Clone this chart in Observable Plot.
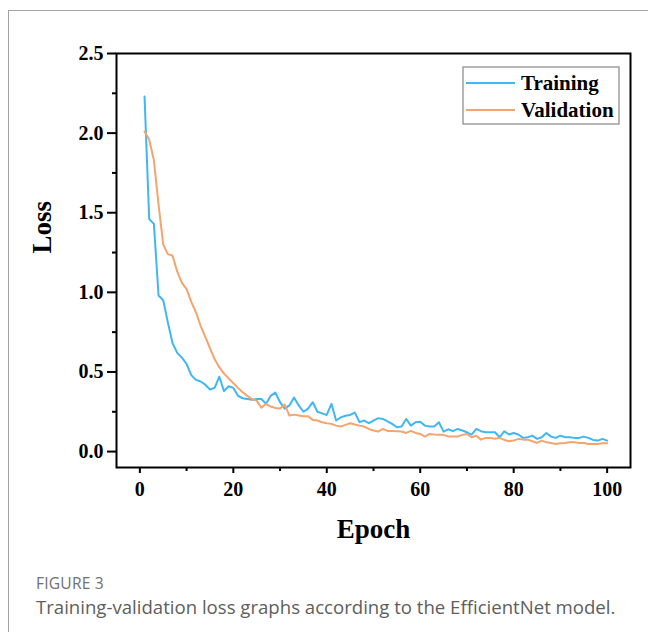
<!DOCTYPE html>
<html>
<head>
<meta charset="utf-8">
<script src="https://cdn.jsdelivr.net/npm/d3@7"></script>
<script src="https://cdn.jsdelivr.net/npm/@observablehq/plot@0.6"></script>
<style>
  html, body { margin: 0; padding: 0; background: #fff; width: 648px; height: 632px; overflow: hidden; }
  #card { position: absolute; left: 8px; top: 10px; width: 700px; height: 700px;
          border-top: 1.5px solid #a3a3a3; border-left: 1.5px solid #a3a3a3; }
  #chart { position: absolute; left: 0; top: 0; }
  #fig { position: absolute; left: 36px; top: 572px; font-family: "Open Sans", sans-serif;
         font-size: 15.6px; color: #707070; letter-spacing: 0.2px; }
  #cap { position: absolute; left: 36px; top: 594px; font-family: "Open Sans", sans-serif;
         font-size: 18.6px; color: #5e5e5e; white-space: nowrap; }
</style>
</head>
<body>
<div id="card"></div>
<div id="chart"></div>
<div id="fig">FIGURE 3</div>
<div id="cap">Training-validation loss graphs according to the EfficientNet model.</div>
<script>
const seriesNames = ["Training", "Validation"];
const seriesColors = ["#41b6f4", "#f5a46e"];
const xMajorTicks = [0, 20, 40, 60, 80, 100];
const xMinorTicks = [10, 30, 50, 70, 90];
const yMajorTicks = [0, 0.5, 1.0, 1.5, 2.0, 2.5];
const yMinorTicks = [0.25, 0.75, 1.25, 1.75, 2.25];

const training = [
  2.23, 1.46, 1.43, 0.98, 0.95, 0.81, 0.68, 0.62, 0.59, 0.55,
  0.48, 0.45, 0.44, 0.42, 0.39, 0.40, 0.47, 0.38, 0.41, 0.40,
  0.35, 0.335, 0.33, 0.325, 0.33, 0.33, 0.30, 0.35, 0.37, 0.31,
  0.27, 0.29, 0.34, 0.29, 0.25, 0.27, 0.31, 0.25, 0.24, 0.23,
  0.30, 0.195, 0.215, 0.225, 0.23, 0.245, 0.185, 0.195, 0.178, 0.195,
  0.21, 0.205, 0.19, 0.174, 0.153, 0.157, 0.205, 0.163, 0.184, 0.188,
  0.163, 0.157, 0.157, 0.184, 0.125, 0.14, 0.128, 0.142, 0.132, 0.121,
  0.107, 0.142, 0.128, 0.121, 0.121, 0.121, 0.09, 0.128, 0.107, 0.117,
  0.107, 0.086, 0.09, 0.10, 0.08, 0.09, 0.117, 0.094, 0.086, 0.10,
  0.09, 0.09, 0.086, 0.086, 0.094, 0.086, 0.073, 0.069, 0.08, 0.069
];
const validation = [
  2.01, 1.96, 1.83, 1.55, 1.30, 1.24, 1.23, 1.13, 1.06, 1.02,
  0.94, 0.875, 0.79, 0.72, 0.65, 0.58, 0.53, 0.49, 0.46, 0.43,
  0.40, 0.373, 0.35, 0.33, 0.32, 0.275, 0.30, 0.283, 0.274, 0.27,
  0.295, 0.226, 0.232, 0.226, 0.222, 0.222, 0.199, 0.195, 0.184, 0.178,
  0.174, 0.163, 0.157, 0.168, 0.178, 0.17, 0.163, 0.157, 0.142, 0.132,
  0.126, 0.142, 0.13, 0.13, 0.128, 0.126, 0.117, 0.13, 0.117, 0.111,
  0.094, 0.111, 0.107, 0.105, 0.105, 0.094, 0.094, 0.094, 0.105, 0.111,
  0.09, 0.10, 0.075, 0.086, 0.086, 0.08, 0.086, 0.073, 0.065, 0.069,
  0.08, 0.075, 0.075, 0.065, 0.054, 0.069, 0.058, 0.054, 0.048, 0.052,
  0.054, 0.058, 0.058, 0.054, 0.054, 0.048, 0.048, 0.048, 0.052, 0.052
];

const rows = [];
training.forEach((v, i) => rows.push({epoch: i + 1, loss: v, series: "Training"}));
validation.forEach((v, i) => rows.push({epoch: i + 1, loss: v, series: "Validation"}));

const serif = "'Liberation Serif', 'Times New Roman', serif";

const chart = Plot.plot({
  width: 648,
  height: 560,
  marginLeft: 116,
  marginRight: 18,
  marginTop: 53,
  marginBottom: 93,
  style: {fontFamily: serif, fontWeight: "bold", background: "transparent", color: "#000"},
  x: {domain: [-5, 105]},
  y: {domain: [-0.1, 2.5]},
  color: {domain: seriesNames, range: seriesColors},
  marks: [
    Plot.axisX({ticks: xMajorTicks, tickSize: 6, tickPadding: 8, strokeWidth: 2, fontSize: 20, label: null, tickFormat: d3.format("d")}),
    Plot.axisX({ticks: xMinorTicks, tickSize: 4, strokeWidth: 2, label: null, tickFormat: () => ""}),
    Plot.axisY({ticks: yMajorTicks, tickSize: 9, tickPadding: 4, strokeWidth: 2, fontSize: 20, label: null, tickFormat: d3.format(".1f")}),
    Plot.axisY({ticks: yMinorTicks, tickSize: 4, strokeWidth: 2, label: null, tickFormat: () => ""}),
    Plot.lineY(rows, {x: "epoch", y: "loss", stroke: "series", strokeWidth: 2}),
    Plot.frame({stroke: "#000", strokeWidth: 2}),
    Plot.text(["Epoch"], {frameAnchor: "bottom", dy: 70, fontSize: 27, fontWeight: "bold", fill: "#000"}),
    Plot.text(["Loss"], {frameAnchor: "left", dx: -74, dy: -7, rotate: -90, fontSize: 27, fontWeight: "bold", fill: "#000"})
  ]
});
document.getElementById("chart").appendChild(chart);

// legend
const svg = d3.select(chart);
const lg = svg.append("g").attr("text-anchor", "start");
lg.append("rect").attr("x", 463).attr("y", 67).attr("width", 156).attr("height", 57)
  .attr("fill", "#fff").attr("stroke", "#888").attr("stroke-width", 1.2);
seriesNames.forEach((name, i) => {
  const y = 83 + i * 27;
  lg.append("line").attr("x1", 466).attr("x2", 515).attr("y1", y).attr("y2", y)
    .attr("stroke", seriesColors[i]).attr("stroke-width", 2);
  lg.append("text").attr("x", 521).attr("y", y).attr("dy", "0.34em")
    .attr("text-anchor", "start")
    .attr("font-size", 21).attr("font-weight", "bold").attr("font-family", serif)
    .attr("fill", "#000").text(name);
});
</script>
</body>
</html>
